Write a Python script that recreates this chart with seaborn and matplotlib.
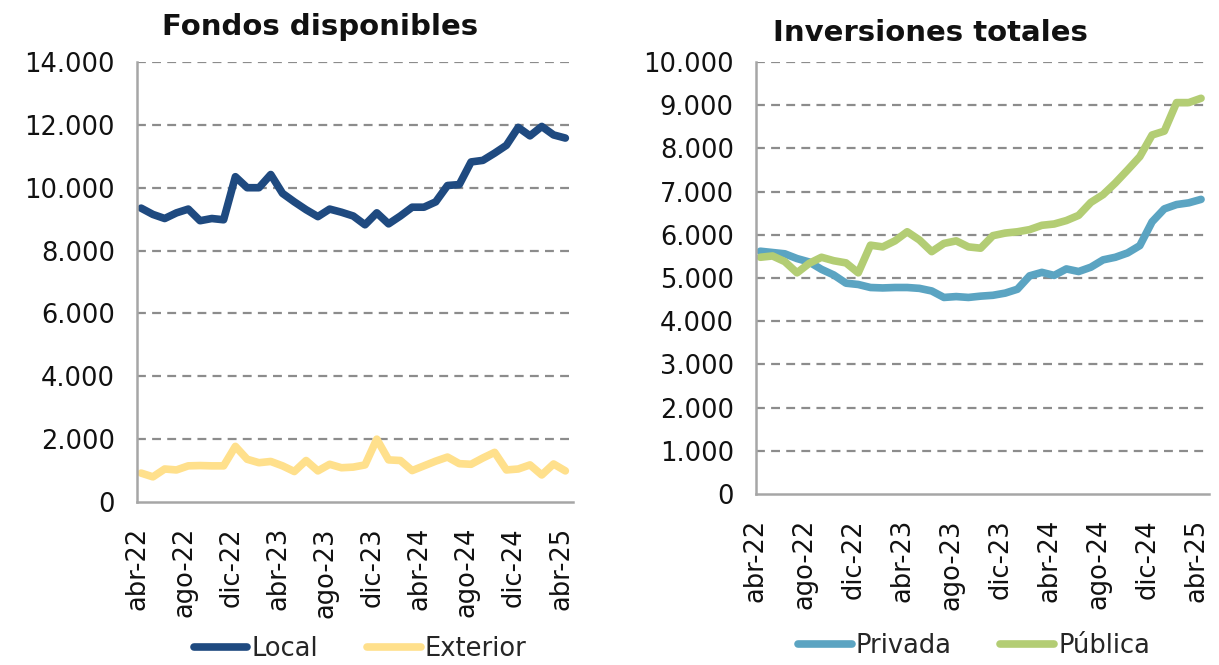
import numpy as np
import pandas as pd
import matplotlib
matplotlib.use("Agg")
import matplotlib.pyplot as plt
from matplotlib.ticker import FuncFormatter, FixedLocator
from matplotlib.lines import Line2D
import seaborn as sns

# ---------------- data ----------------
months = ["abr-22", "may-22", "jun-22", "jul-22", "ago-22", "sep-22", "oct-22", "nov-22",
          "dic-22", "ene-23", "feb-23", "mar-23", "abr-23", "may-23", "jun-23", "jul-23",
          "ago-23", "sep-23", "oct-23", "nov-23", "dic-23", "ene-24", "feb-24", "mar-24",
          "abr-24", "may-24", "jun-24", "jul-24", "ago-24", "sep-24", "oct-24", "nov-24",
          "dic-24", "ene-25", "feb-25", "mar-25", "abr-25"]

local = [9350, 9150, 9020, 9200, 9320, 8950, 9020, 8980, 10350, 10000, 10000, 10420,
         9820, 9550, 9300, 9080, 9320, 9220, 9100, 8820, 9200, 8850, 9100, 9380,
         9380, 9550, 10070, 10100, 10820, 10870, 11100, 11350, 11920, 11650, 11950, 11680, 11580]

exterior = [920, 800, 1050, 1020, 1150, 1160, 1150, 1150, 1770, 1360, 1250, 1290,
            1150, 970, 1320, 990, 1200, 1090, 1110, 1180, 2000, 1340, 1320, 1000,
            1150, 1300, 1430, 1220, 1200, 1400, 1580, 1020, 1050, 1180, 860, 1210, 990]

privada = [5620, 5590, 5560, 5450, 5370, 5200, 5070, 4880, 4850, 4780, 4770, 4780,
           4780, 4760, 4700, 4550, 4570, 4550, 4580, 4600, 4650, 4740, 5050, 5130,
           5060, 5210, 5150, 5250, 5420, 5480, 5580, 5750, 6300, 6600, 6700, 6740, 6820]

publica = [5480, 5510, 5380, 5120, 5340, 5480, 5400, 5350, 5120, 5760, 5720, 5860,
           6070, 5880, 5610, 5800, 5860, 5720, 5690, 5980, 6040, 6070, 6120, 6220,
           6250, 6330, 6450, 6750, 6930, 7200, 7500, 7810, 8310, 8400, 9060, 9060, 9160]

tick_every = 4
left_ticks = [0, 2000, 4000, 6000, 8000, 10000, 12000, 14000]
right_ticks = [0, 1000, 2000, 3000, 4000, 5000, 6000, 7000, 8000, 9000, 10000]

# ---------------- style ----------------
sns.set_theme(style="white")
plt.rcParams["font.family"] = ["DejaVu Sans"]

W, H = 1219, 665
fig = plt.figure(figsize=(W / 100, H / 100), dpi=100)

ax1 = fig.add_axes([137 / W, 1 - 502 / H, (573 - 137) / W, (502 - 62) / H])
ax2 = fig.add_axes([756 / W, 1 - 494 / H, (1209 - 756) / W, (494 - 62) / H])

pos = np.arange(len(months)) + 0.35

df1 = pd.DataFrame({
    "x": np.concatenate([pos, pos]),
    "valor": local + exterior,
    "serie": ["Local"] * len(months) + ["Exterior"] * len(months),
})
df2 = pd.DataFrame({
    "x": np.concatenate([pos, pos]),
    "valor": privada + publica,
    "serie": ["Privada"] * len(months) + ["Pública"] * len(months),
})

pal1 = {"Local": "#1f4a80", "Exterior": "#ffe08c"}
pal2 = {"Privada": "#5ba4c2", "Pública": "#b3cd74"}

sns.lineplot(data=df1, x="x", y="valor", hue="serie", palette=pal1, ax=ax1,
             linewidth=5.5, solid_capstyle="round", solid_joinstyle="round", legend=False)
sns.lineplot(data=df2, x="x", y="valor", hue="serie", palette=pal2, ax=ax2,
             linewidth=5.5, solid_capstyle="round", solid_joinstyle="round", legend=False)

fmt = FuncFormatter(lambda v, p: f"{v:,.0f}".replace(",", "."))
grid_col = "#8c8c8c"
spine_col = "#a6a6a6"

for ax, yt, ymax in [(ax1, left_ticks, 14000), (ax2, right_ticks, 10000)]:
    ax.set_xlim(0, 37)
    ax.set_ylim(0, ymax)
    ax.yaxis.set_major_locator(FixedLocator(yt))
    ax.yaxis.set_major_formatter(fmt)
    tick_pos = list(range(0, len(months), tick_every))
    ax.set_xticks(tick_pos)
    ax.set_xticklabels([months[i] for i in tick_pos], rotation=90)
    ax.set_xlabel("")
    ax.set_ylabel("")
    for y in yt[1:]:
        ax.axhline(y, color=grid_col, lw=1.6, ls=(0, (4, 2.8)), zorder=0)
    for s in ["top", "right"]:
        ax.spines[s].set_visible(False)
    for s in ["left", "bottom"]:
        ax.spines[s].set_color(spine_col)
        ax.spines[s].set_linewidth(1.8)
    ax.tick_params(axis="both", which="major", direction="out", length=6,
                   width=1.6, color=spine_col, labelsize=18.5, labelcolor="#111111")
    ax.tick_params(axis="y", pad=10)
    ax.tick_params(axis="x", pad=12)
    ax.set_facecolor("white")

fig.text(320 / W, 1 - 27 / H, "Fondos disponibles", ha="center", va="center",
         fontsize=21, fontweight="bold", color="#111111")
fig.text(930 / W, 1 - 33 / H, "Inversiones totales", ha="center", va="center",
         fontsize=21, fontweight="bold", color="#111111")

h1 = [Line2D([], [], color=pal1[k], lw=5.5, solid_capstyle="round") for k in ["Local", "Exterior"]]
h2 = [Line2D([], [], color=pal2[k], lw=5.5, solid_capstyle="round") for k in ["Privada", "Pública"]]
fig.legend(h1, ["Local", "Exterior"], loc="center", bbox_to_anchor=(360 / W, 1 - 649 / H),
           ncol=2, frameon=False, fontsize=18.5, handlelength=2.1, handletextpad=0.15,
           columnspacing=1.9, borderpad=0)
fig.legend(h2, ["Privada", "Pública"], loc="center", bbox_to_anchor=(974 / W, 1 - 646 / H),
           ncol=2, frameon=False, fontsize=18.5, handlelength=2.1, handletextpad=0.15,
           columnspacing=1.9, borderpad=0)

fig.savefig("out.png", dpi=100, facecolor="white")
